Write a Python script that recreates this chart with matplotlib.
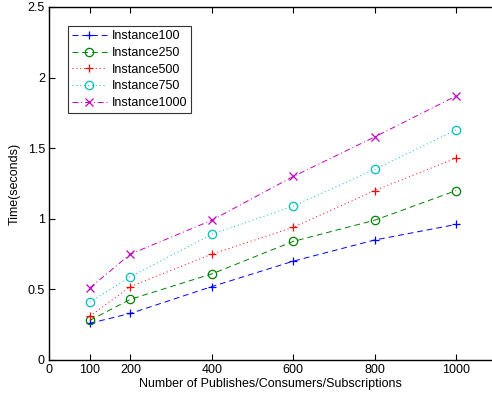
import matplotlib
matplotlib.use("Agg")
import matplotlib.pyplot as plt

plt.rcParams["font.family"] = ["Liberation Sans", "DejaVu Sans"]

sizes = [100, 200, 400, 600, 800, 1000]
inst100 = [0.26, 0.33, 0.52, 0.70, 0.85, 0.96]
inst250 = [0.28, 0.43, 0.61, 0.84, 0.99, 1.20]
inst500 = [0.31, 0.52, 0.75, 0.94, 1.20, 1.43]
inst750 = [0.41, 0.59, 0.89, 1.09, 1.35, 1.63]
inst1000 = [0.51, 0.75, 0.99, 1.30, 1.58, 1.87]
x_ticks = [0, 100, 200, 400, 600, 800, 1000]
y_ticks = [0, 0.5, 1, 1.5, 2, 2.5]

fig = plt.figure(figsize=(4.92, 3.96), dpi=100)
ax = fig.add_axes([49 / 492, 36 / 396, 443 / 492, 353 / 396])

styles = [
    ("Instance100", inst100, (0, 0, 1), (0, (6, 4)), "+"),
    ("Instance250", inst250, (0, 0.5, 0), (0, (6, 4)), "o"),
    ("Instance500", inst500, (1, 0, 0), (0, (1, 3)), "+"),
    ("Instance750", inst750, (0, 0.75, 0.75), (0, (1, 3)), "o"),
    ("Instance1000", inst1000, (0.75, 0, 0.75), (0, (6, 3, 1, 3)), "x"),
]
for label, vals, color, ls, mk in styles:
    ax.plot(sizes, vals, linestyle=ls, marker=mk, color=color, lw=0.7,
            markersize=6, markerfacecolor="none", markeredgewidth=0.9,
            label=label)

ax.set_xlim(0, 1088)
ax.set_ylim(0, 2.5)
ax.set_xticks(x_ticks)
ax.set_xticklabels([str(t) for t in x_ticks])
ax.set_yticks(y_ticks)
ax.set_yticklabels(["0", "0.5", "1", "1.5", "2", "2.5"])
ax.tick_params(direction="in", length=4, labelsize=9, top=True, width=0.8, pad=3)
for s in ("left", "bottom", "top"):
    ax.spines[s].set_linewidth(1.0)
ax.spines["right"].set_visible(False)

ax.set_xlabel("Number of Publishes/Consumers/Subscriptions", fontsize=9, labelpad=1)
ax.set_ylabel("Time(seconds)", fontsize=9, labelpad=5)

leg = ax.legend(loc="upper left", bbox_to_anchor=(0.043, 0.945), fontsize=9,
                frameon=True, fancybox=False, edgecolor="black",
                handlelength=2.8, borderpad=0.3, labelspacing=0.38,
                handletextpad=0.4, borderaxespad=0)
leg.get_frame().set_linewidth(0.8)

fig.savefig("out.png", dpi=100)
